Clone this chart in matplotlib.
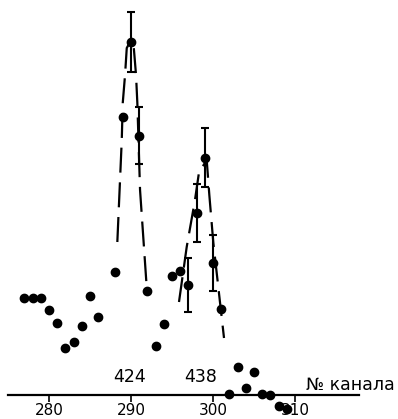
import matplotlib
matplotlib.use("Agg")
import matplotlib.pyplot as plt
from matplotlib import font_manager

# Measured counts per channel (background-subtracted)
channels = [277, 278, 279, 280, 281, 282, 283, 284, 285, 286, 288, 289, 290,
            291, 292, 293, 294, 295, 296, 297, 298, 299, 300, 301, 302, 303,
            304, 305, 306, 307, 308, 309]
counts = [97, 97, 97, 85, 72, 47, 53, 69, 99, 78, 123, 278, 353,
          259, 104, 49, 71, 119, 124, 110, 182, 237, 132, 86, 1, 28,
          7, 23, 1, 0, -11, -14]

# Statistical errors shown for the peak channels
err_channels = [290, 291, 297, 298, 299, 300]
err_counts = [353, 259, 110, 182, 237, 132]
err_sizes = [29.6, 28.5, 27, 29, 29.5, 28]

# Hand-drawn peak envelopes (channel, counts)
peak1_ch = [288.33, 288.87, 288.99, 289.27, 289.48, 289.88, 290.34, 290.61,
            290.77, 291.10, 291.91]
peak1_val = [153, 255, 292, 320, 347, 353, 347, 320, 292, 205, 108]
peak2_ch = [295.85, 296.79, 297.80, 298.33, 298.70, 299.23, 299.55, 300.04,
            301.34]
peak2_val = [93, 148, 195, 225, 228, 235, 200, 152, 57]

# Peak labels (energy, keV)
peak_labels = ["424", "438"]
peak_label_ch = [289.8, 298.5]
tick_values = [280, 290, 300, 310]
axis_label = "№ канала"

names = {f.name for f in font_manager.fontManager.ttflist}
narrow = [n for n in ("Liberation Sans Narrow", "DejaVu Sans Condensed")
          if n in names]
plt.rcParams["font.family"] = narrow + ["DejaVu Sans"]
plt.rcParams["lines.scale_dashes"] = False

fig = plt.figure(figsize=(3.98, 4.19), dpi=100)
ax = fig.add_axes([0, 0, 1, 1])
ax.set_xlim(274.02, 322.56)
ax.set_ylim(-24, 395)

for s in ("left", "right", "top"):
    ax.spines[s].set_visible(False)
ax.spines["bottom"].set_position(("data", 0))
ax.spines["bottom"].set_bounds(275.0, 317.8)
ax.spines["bottom"].set_linewidth(1.6)
ax.set_yticks([])
ax.set_xticks(tick_values)
ax.set_xticklabels([str(t) for t in tick_values])
ax.tick_params(axis="x", direction="out", length=5, width=1.2, pad=0.5,
               labelsize=11)

ax.plot(peak1_ch, peak1_val, color="black", lw=1.6, dashes=(18, 7))
ax.plot(peak2_ch, peak2_val, color="black", lw=1.6, dashes=(18, 7))

ax.errorbar(err_channels, err_counts, yerr=err_sizes, fmt="none",
            ecolor="black", elinewidth=1.5, capsize=3.2, capthick=1.5)
ax.plot(channels, counts, "o", color="black", ms=6, zorder=5)

for lab, ch in zip(peak_labels, peak_label_ch):
    ax.text(ch, 18, lab, ha="center", va="center", fontsize=12.5)
ax.text(316.8, 10, axis_label, ha="center", va="center", fontsize=12.5)

fig.savefig("out.png", dpi=100)
